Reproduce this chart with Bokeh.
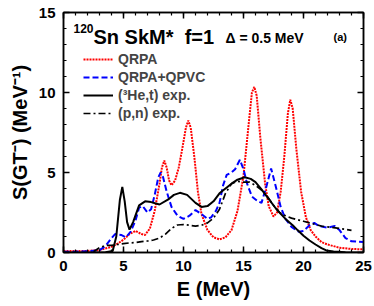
from bokeh.plotting import figure
from bokeh.models import (Range1d, LinearAxis, SingleIntervalTicker, Legend, LegendItem, Label,
                          CustomJSTickFormatter)
from bokeh.embed import file_html
from bokeh.resources import INLINE

# QRPA (red dotted)
qrpa_e = [0, 1, 2, 3, 4, 4.5, 5, 5.5, 6, 6.5, 6.8, 7.2, 7.6, 8.0, 8.2, 8.4, 8.6, 8.8, 9.0, 9.3, 9.6,
          9.9, 10.2, 10.4, 10.6, 10.9, 11.2, 11.5, 12.0, 12.5, 13.0, 13.5, 14.0, 14.5, 15.0, 15.4,
          15.7, 15.9, 16.1, 16.4, 16.8, 17.1, 17.5, 17.8, 18.1, 18.4, 18.7, 18.9, 19.1, 19.4, 19.8,
          20.2, 20.6, 21.0, 21.5, 22.0, 23.0, 24.0, 25.0]
qrpa_s = [0.1, 0.1, 0.1, 0.15, 0.35, 0.55, 0.8, 1.15, 1.35, 1.15, 1.1, 1.5, 2.6, 4.3, 5.3, 5.75, 5.3,
          4.5, 4.2, 4.5, 5.3, 6.5, 7.8, 8.25, 7.8, 6.0, 3.8, 2.4, 1.4, 0.95, 0.82, 0.95, 1.4, 2.6,
          4.8, 7.8, 10.0, 10.35, 9.8, 7.2, 4.3, 2.9, 2.25, 2.5, 3.8, 6.0, 8.7, 9.55, 9.0, 6.5, 3.8,
          2.2, 1.4, 1.0, 0.65, 0.5, 0.3, 0.22, 0.2]

# QRPA+QPVC (blue dashed)
qpvc_e = [0, 1, 2, 3.0, 3.5, 4.0, 4.3, 4.8, 5.2, 5.6, 6.0, 6.3, 6.6, 7.0, 7.3, 7.6, 7.9, 8.1, 8.3, 8.6,
          9.0, 9.5, 10.0, 10.5, 11.0, 11.5, 12.0, 12.3, 12.7, 13.0, 13.3, 13.6, 14.0, 14.3, 14.7,
          15.0, 15.3, 15.7, 16.2, 16.5, 16.9, 17.3, 17.7, 18.1, 18.5, 19.0, 19.6, 20.0, 20.5, 20.9,
          21.3, 22.0, 22.6, 23.0, 23.5, 24.0, 25.0]
qpvc_s = [0.05, 0.05, 0.08, 0.15, 0.4, 0.9, 1.15, 1.1, 0.95, 1.3, 2.0, 2.8, 2.9, 2.5, 2.7, 3.6, 4.7,
          5.0, 4.7, 3.8, 2.85, 2.3, 2.1, 2.3, 2.65, 2.4, 2.1, 2.2, 2.6, 3.1, 4.2, 4.85, 5.0, 5.2,
          5.8, 5.2, 4.3, 3.5, 3.2, 3.1, 4.1, 5.25, 4.1, 2.85, 2.1, 1.6, 1.3, 1.35, 1.7, 1.85, 1.65,
          1.55, 1.65, 1.4, 0.9, 0.7, 0.65]

# (3He,t) exp. (black solid)
het_e = [0, 2, 3.5, 4.1, 4.4, 4.7, 4.9, 5.1, 5.3, 5.5, 5.8, 6.3, 6.8, 7.3, 8.0, 8.7, 9.2, 9.7, 10.3,
         11.0, 11.5, 12.0, 12.5, 13.0, 13.5, 14.0, 14.5, 15.1, 15.6, 16.0, 16.5, 17.0, 17.7, 18.0,
         18.5, 19.1, 19.5, 20.0, 20.5, 21.0, 21.5, 21.9, 22.5, 23.5, 25.0]
het_s = [0.0, 0.0, 0.02, 0.1, 1.0, 3.3, 4.1, 3.2, 1.9, 1.43, 1.9, 2.95, 3.2, 3.15, 3.0, 3.3, 3.6,
         3.73, 3.6, 3.1, 2.85, 2.9, 3.2, 3.7, 4.0, 4.3, 4.55, 4.7, 4.6, 4.4, 3.95, 3.45, 2.75, 2.5,
         2.1, 1.7, 1.4, 1.05, 0.75, 0.5, 0.28, 0.13, 0.06, 0.01, 0.0]

# (p,n) exp. (black dash-dot)
pn_e = [2.5, 3.0, 3.5, 4.0, 4.5, 5.0, 5.5, 6.0, 6.5, 7.0, 7.5, 8.0, 8.5, 9.0, 9.5, 10.0, 10.5, 11.0,
        11.5, 12.0, 12.5, 13.0, 13.5, 14.0, 14.5, 15.0, 15.5, 16.0, 16.5, 17.0, 17.5, 18.0, 18.5,
        19.0, 19.5, 20.0, 20.5, 21.0, 21.5, 22.0, 22.5, 23.0, 23.5, 24.0]
pn_s = [0.05, 0.3, 0.45, 0.45, 0.5, 0.55, 0.6, 0.62, 0.68, 0.72, 0.78, 0.9, 1.15, 1.5, 1.72, 1.75,
        1.7, 1.65, 1.7, 1.85, 2.15, 2.7, 3.7, 4.3, 4.45, 4.4, 4.4, 4.2, 3.9, 3.5, 2.95, 2.5, 2.3,
        2.15, 2.05, 1.95, 1.85, 1.75, 1.65, 1.6, 1.55, 1.5, 1.45, 1.38]

FONT = "Liberation Sans"

p = figure(width=374, height=306, output_backend="svg", toolbar_location=None,
           x_range=Range1d(0, 25), y_range=Range1d(0, 15),
           min_border_left=63, min_border_right=11, min_border_top=12, min_border_bottom=54,
           x_axis_label="E (MeV)", y_axis_label="S(GT\u207b) (MeV\u207b\u00b9)")
p.grid.visible = False
p.background_fill_color = "white"
p.border_fill_color = "white"
p.outline_line_color = "black"
p.outline_line_width = 1.5
p.outline_line_alpha = 1.0

r_q = p.line(qrpa_e, qrpa_s, line_color="#ff0000", line_width=2, line_dash="2 1")
r_v = p.line(qpvc_e, qpvc_s, line_color="#0000ff", line_width=2, line_dash="6 3")
r_h = p.line(het_e, het_s, line_color="black", line_width=2)
r_p = p.line(pn_e, pn_s, line_color="black", line_width=1.7, line_dash="7 3 2 3")

def style_axis(ax):
    ax.ticker = SingleIntervalTicker(interval=5, num_minor_ticks=5)
    ax.major_tick_in = 6
    ax.major_tick_out = 0
    ax.minor_tick_in = 3
    ax.minor_tick_out = 0
    ax.axis_line_width = 1.5
    ax.major_tick_line_width = 1.5
    ax.minor_tick_line_width = 1.2
    ax.major_label_text_font = FONT
    ax.major_label_text_font_style = "bold"
    ax.major_label_text_font_size = "15px"
    ax.major_label_text_color = "black"
    ax.axis_label_text_font = FONT
    ax.axis_label_text_font_style = "bold"
    ax.axis_label_text_font_size = "20px"
    ax.axis_label_text_color = "black"

for ax in p.xaxis:
    style_axis(ax)
    ax.major_label_standoff = 8
    ax.axis_label_standoff = 4
for ax in p.yaxis:
    style_axis(ax)
    ax.major_label_standoff = 8
    ax.axis_label_standoff = 5

ax_r = LinearAxis()
style_axis(ax_r)
ax_r.major_label_standoff = 0
ax_r.formatter = CustomJSTickFormatter(code="return ''")
p.add_layout(ax_r, "right")
ax_t = LinearAxis()
style_axis(ax_t)
ax_t.major_label_standoff = 0
ax_t.formatter = CustomJSTickFormatter(code="return ''")
p.add_layout(ax_t, "above")

legend = Legend(items=[
    LegendItem(label="QRPA", renderers=[r_q]),
    LegendItem(label="QRPA+QPVC", renderers=[r_v]),
    LegendItem(label="(\u00b3He,t) exp.", renderers=[r_h]),
    LegendItem(label="(p,n) exp.", renderers=[r_p]),
], location=(20, 130), orientation="vertical")
legend.glyph_width = 30
legend.glyph_height = 18
legend.label_height = 18
legend.label_standoff = 5
legend.spacing = -2
legend.padding = 0
legend.margin = 0
legend.border_line_color = None
legend.background_fill_alpha = 0
legend.label_text_font = FONT
legend.label_text_font_style = "bold"
legend.label_text_font_size = "14px"
p.add_layout(legend)

def lab(x, y, text, size):
    p.add_layout(Label(x=x, y=y, text=text, text_font=FONT, text_font_style="bold",
                       text_font_size=size, text_baseline="alphabetic", text_align="left",
                       text_color="black"))

lab(0.83, 14.0, "120", "12px")
lab(2.5, 13.45, "Sn SkM*\u00a0 f=1", "20px")
lab(13.5, 13.4, "\u0394 = 0.5 MeV", "14px")
lab(22.5, 13.45, "(a)", "11px")

open("out.html", "w").write(file_html(p, INLINE))
